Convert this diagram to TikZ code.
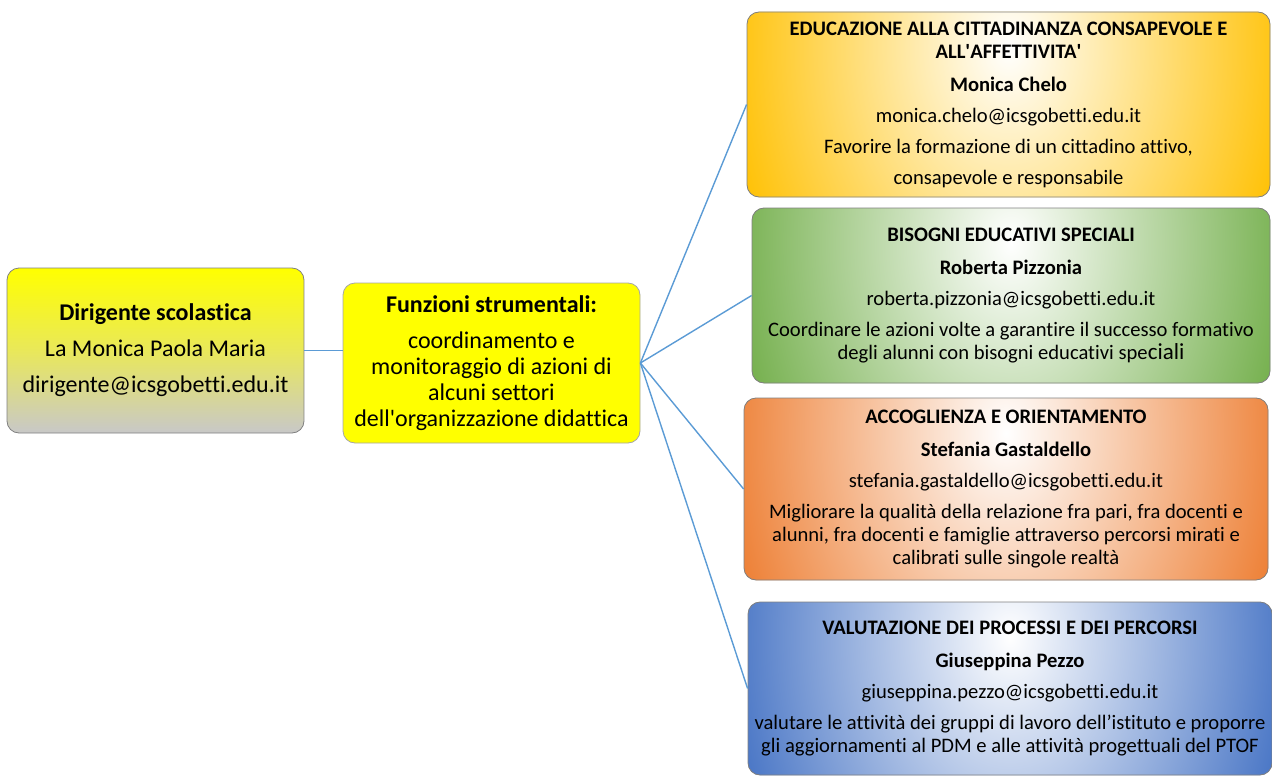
\documentclass[tikz,border=0pt]{standalone}
\usepackage{fontspec}
\setmainfont{Carlito}[Ligatures={TeX,NoCommon}]
\usetikzlibrary{positioning}
\definecolor{gold}{HTML}{FFC000}
\definecolor{leaf}{HTML}{70AD47}
\definecolor{rust}{HTML}{ED7D31}
\definecolor{sea}{HTML}{4472C4}
\definecolor{wire}{HTML}{5B9BD5}
\definecolor{lemon}{HTML}{FFFF00}
\definecolor{sand}{HTML}{E9E85A}
\definecolor{ash}{HTML}{C8C8C8}
\tikzset{
  cardbox/.style={rounded corners=12pt, draw=black!50, line width=0.8pt, inner sep=0pt, align=center},
  areabox/.style={cardbox, font=\fontsize{20.6}{23}\selectfont, fill=#1,
    path picture={\shade[inner color=white, outer color=#1] ([yshift=-35pt]path picture bounding box.north) ellipse (290pt and 400pt);}},
  link/.style={draw=wire, line width=1.4pt}
}
\begin{document}
\begin{tikzpicture}[x=1pt,y=-1pt]
                \useasboundingbox (0,0) rectangle (1272,776);
                \node [cardbox, minimum width=297pt, minimum height=165pt, top color=lemon, bottom color=ash,
                       middle color=sand, font=\fontsize{24}{36}\selectfont] (dir) at (155.5,350.5)
                      {\textbf{Dirigente scolastica}\\La Monica Paola Maria\\dirigente@icsgobetti.edu.it};
                \node [cardbox, minimum width=297pt, minimum height=160pt, fill=lemon, draw=black!35,
                       font=\fontsize{24}{26}\selectfont] (fun) at (491.5,363)
                      {\textbf{Funzioni strumentali:}\\[10pt]coordinamento e\\monitoraggio di azioni di\\alcuni settori\\dell\textquotesingle organizzazione didattica};
                \node [areabox=gold, minimum width=523pt, minimum height=185pt] (edu) at (1008.5,104.5)
                      {\textbf{EDUCAZIONE ALLA CITTADINANZA CONSAPEVOLE E}\\\textbf{ALL\textquotesingle AFFETTIVITA\textquotesingle}\\[10pt]
                       \textbf{Monica Chelo}\\[8pt]monica.chelo@icsgobetti.edu.it\\[8pt]
                       Favorire la formazione di un cittadino attivo,\\[8pt]consapevole e responsabile};
                \node [areabox=leaf, minimum width=518pt, minimum height=175pt] (bes) at (1011,295.5)
                      {\textbf{BISOGNI EDUCATIVI SPECIALI}\\[10pt]\textbf{Roberta Pizzonia}\\[8pt]
                       roberta.pizzonia@icsgobetti.edu.it\\[8pt]
                       Coordinare le azioni volte a garantire il successo formativo\\
                       degli alunni con bisogni educativi spe{\fontsize{23}{23}\selectfont ciali}};
                \node [areabox=rust, minimum width=524pt, minimum height=182pt] (acc) at (1006,489)
                      {\textbf{ACCOGLIENZA E ORIENTAMENTO}\\[10pt]\textbf{Stefania Gastaldello}\\[8pt]
                       stefania.gastaldello@icsgobetti.edu.it\\[8pt]
                       Migliorare la qualità della relazione fra pari, fra docenti e\\
                       alunni, fra docenti e famiglie attraverso percorsi mirati e\\
                       calibrati sulle singole realtà};
                \node [areabox=sea, minimum width=524pt, minimum height=173pt] (val) at (1010,688.5)
                      {\textbf{VALUTAZIONE DEI PROCESSI E DEI PERCORSI}\\[10pt]\textbf{Giuseppina Pezzo}\\[8pt]
                       giuseppina.pezzo@icsgobetti.edu.it\\[8pt]
                       valutare le attività dei gruppi di lavoro dell’istituto e proporre\\
                       gli aggiornamenti al PDM e alle attività progettuali del PTOF};
                \draw [link] (dir.east) -- (dir.east -| fun.west);
                \draw [link] (fun.east) -- (edu.west);
                \draw [link] (fun.east) -- (bes.west);
                \draw [link] (fun.east) -- (acc.west);
                \draw [link] (fun.east) -- (val.west);
            \end{tikzpicture}
\end{document}
